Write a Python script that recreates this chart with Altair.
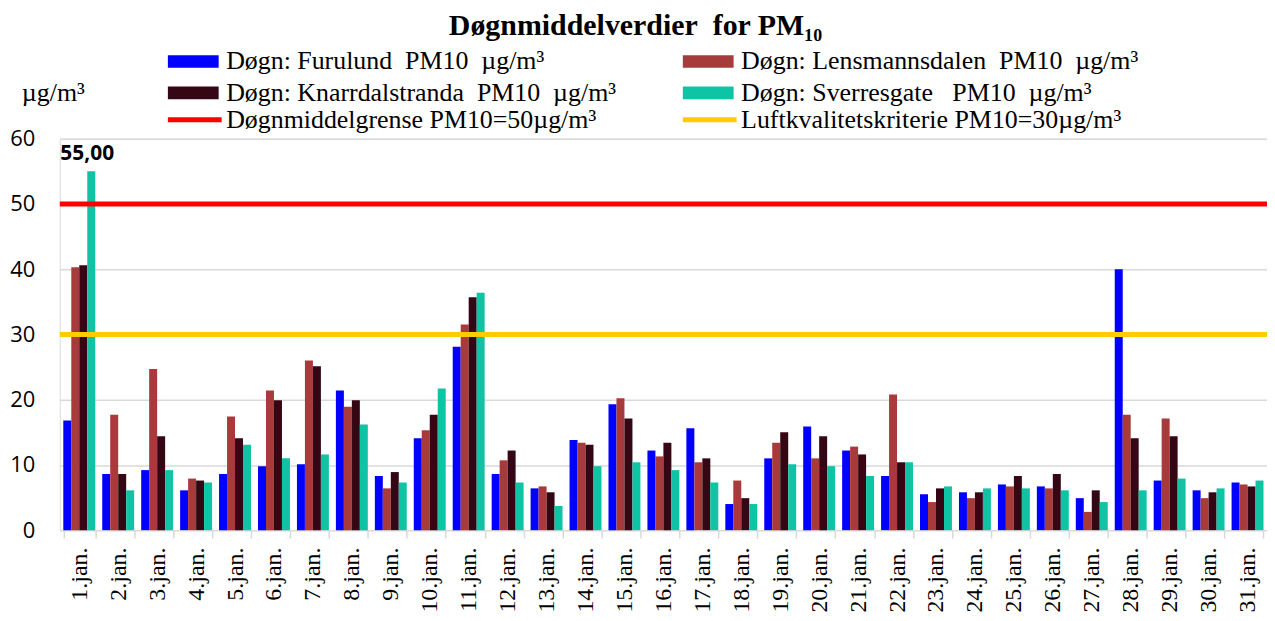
import altair as alt
import pandas as pd

days = [f"{i}.jan." for i in range(1, 32)]

furulund_name = "Døgn: Furulund\u00a0\u00a0PM10\u00a0\u00a0µg/m³"
lensmannsdalen_name = "Døgn: Lensmannsdalen\u00a0\u00a0PM10\u00a0\u00a0µg/m³"
knarrdalstranda_name = "Døgn: Knarrdalstranda\u00a0\u00a0PM10\u00a0\u00a0µg/m³"
sverresgate_name = "Døgn: Sverresgate\u00a0\u00a0\u00a0PM10\u00a0\u00a0µg/m³"

# order of bars inside each day
stations = [furulund_name, lensmannsdalen_name, knarrdalstranda_name, sverresgate_name]
# legend order (legend fills column by column)
legend_order = [furulund_name, knarrdalstranda_name, lensmannsdalen_name, sverresgate_name]
legend_colors = ["#0000FF", "#350614", "#A73A3A", "#0FC4A4"]

furulund = [16.8, 8.6, 9.2, 6.1, 8.6, 9.8, 10.1, 21.4, 8.3, 14.1, 28.1, 8.6, 6.4, 13.8, 19.3, 12.2,
            15.6, 4.0, 11.0, 15.9, 12.2, 8.3, 5.5, 5.8, 7.0, 6.7, 4.9, 40.0, 7.6, 6.1, 7.3]
lensmannsdalen = [40.3, 17.7, 24.7, 7.9, 17.4, 21.4, 26.0, 18.9, 6.4, 15.3, 31.5, 10.7, 6.7, 13.4, 20.2, 11.3,
                  10.4, 7.6, 13.4, 11.0, 12.8, 20.8, 4.3, 4.9, 6.7, 6.4, 2.8, 17.7, 17.1, 4.9, 7.0]
knarrdalstranda = [40.6, 8.6, 14.4, 7.6, 14.1, 19.9, 25.1, 19.9, 8.9, 17.7, 35.7, 12.2, 5.8, 13.1, 17.1, 13.4,
                   11.0, 4.9, 15.0, 14.4, 11.6, 10.4, 6.4, 5.8, 8.3, 8.6, 6.1, 14.1, 14.4, 5.8, 6.7]
sverresgate = [55.0, 6.1, 9.2, 7.3, 13.1, 11.0, 11.6, 16.2, 7.3, 21.7, 36.4, 7.3, 3.7, 9.8, 10.4, 9.2,
               7.3, 4.0, 10.1, 9.8, 8.3, 10.4, 6.7, 6.4, 6.4, 6.1, 4.3, 6.1, 7.9, 6.4, 7.6]

limit_names = ["Døgnmiddelgrense PM10=50µg/m³", "Luftkvalitetskriterie PM10=30µg/m³"]
limit_values = [50, 30]
limit_colors = ["#FF0000", "#FFCC00"]

peak_day = ["1.jan."]
peak_value = [55.0]
peak_label = ["55,00"]

y_ticks = [0, 10, 20, 30, 40, 50, 60]

rows = []
for name, vals in zip(stations, [furulund, lensmannsdalen, knarrdalstranda, sverresgate]):
    for d, v in zip(days, vals):
        rows.append({"day": d, "station": name, "value": v})
bars_df = pd.DataFrame(rows)
limits_df = pd.DataFrame({"limit": limit_names, "value": limit_values})
peak_df = pd.DataFrame({"day": peak_day, "value": peak_value, "label": peak_label})

W, H = 1212, 393
x_scale = alt.Scale(domain=days, paddingInner=0.18, paddingOuter=0.09)
y_scale = alt.Scale(domain=[0, 60], nice=False)

rect_path = "M-2,-0.5H2V0.5H-2Z"
line_path = "M-2,0H2"

x_axis = alt.Axis(
    title=None, labelAngle=-90, labelAlign="right", labelBaseline="middle",
    labelFont="Liberation Serif", labelFontSize=24, labelColor="black",
    labelPadding=9, tickSize=8, tickColor="#d9d9d9", tickWidth=1.5,
    domainColor="#d9d9d9", domainWidth=1.5, tickBand="extent", grid=False,
)
y_axis = alt.Axis(
    values=y_ticks, title="µg/m³", titleAngle=0, titleAlign="center", titleBaseline="alphabetic",
    titleX=-7, titleY=-38, titleFont="Liberation Serif", titleFontSize=26, titleFontWeight="normal",
    titleColor="black", grid=True, gridColor="#d9d9d9", gridWidth=1.5, domain=False, ticks=False,
    labelFont="Open Sans", labelFontSize=22, labelColor="black", labelPadding=25,
)

bars = alt.Chart(bars_df).mark_bar().encode(
    x=alt.X("day:N", sort=days, scale=x_scale, axis=x_axis),
    xOffset=alt.XOffset("station:N", sort=stations,
                        scale=alt.Scale(domain=stations, paddingInner=0, paddingOuter=0)),
    y=alt.Y("value:Q", scale=y_scale, axis=y_axis),
    fill=alt.Fill("station:N",
                  scale=alt.Scale(domain=legend_order, range=legend_colors),
                  legend=alt.Legend(
                      orient="none", legendX=121, legendY=-90.5, columns=2, columnPadding=66,
                      rowPadding=5.5, symbolType=rect_path, symbolSize=650, symbolStrokeWidth=0,
                      labelFont="Liberation Serif", labelFontSize=26, labelColor="black",
                      labelOffset=20, labelLimit=700, title=None)),
)

rules = alt.Chart(limits_df).mark_rule(strokeWidth=5).encode(
    y=alt.Y("value:Q", scale=y_scale),
    stroke=alt.Stroke("limit:N", sort=limit_names,
                      scale=alt.Scale(domain=limit_names, range=limit_colors),
                      legend=alt.Legend(
                          orient="none", legendX=119.5, legendY=-35, columns=2, columnPadding=76,
                          symbolType=line_path, symbolSize=729, symbolStrokeWidth=5,
                          labelFont="Liberation Serif", labelFontSize=26, labelColor="black",
                          labelOffset=15.5, labelLimit=700, title=None)),
)

label = alt.Chart(peak_df).mark_text(
    font="Open Sans", fontSize=21, fontWeight="bold", color="black",
    dx=8, dy=-11, baseline="alphabetic", align="center",
).encode(
    x=alt.X("day:N", sort=days, scale=x_scale),
    y=alt.Y("value:Q", scale=y_scale),
    text="label:N",
)

chart = alt.layer(bars, rules, label).properties(
    width=W, height=H,
    padding={"left": 52, "top": 130, "right": 0, "bottom": 82},
    autosize=alt.AutoSizeParams(type="none"),
    title=alt.Title(
        text="Døgnmiddelverdier\u00a0\u00a0for PM₁₀", font="Liberation Serif", fontSize=30,
        fontWeight="bold", color="black", anchor="middle", dx=-28, offset=8,
    ),
).configure_view(strokeWidth=0).configure(background="white")

chart.save("out.html", embed_options={"renderer": "svg", "actions": False})
